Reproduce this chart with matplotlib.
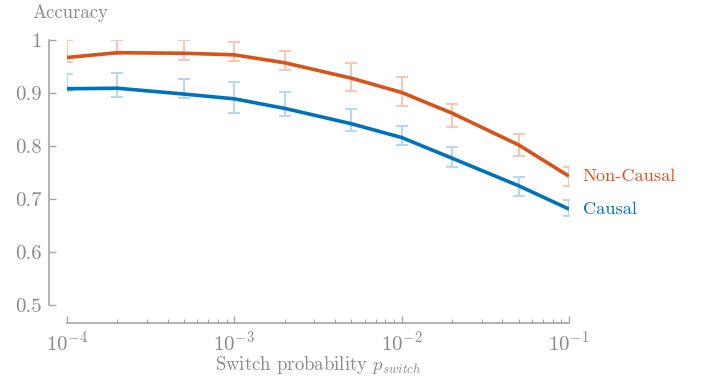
import matplotlib
matplotlib.use("Agg")
import matplotlib.pyplot as plt
from matplotlib.ticker import LogLocator, FixedLocator, FixedFormatter, NullFormatter

plt.rcParams['font.family'] = 'serif'
plt.rcParams['font.serif'] = ['cmr10', 'DejaVu Serif']
plt.rcParams['mathtext.fontset'] = 'cm'
plt.rcParams['axes.formatter.use_mathtext'] = True

p_switch = [1e-4, 2e-4, 5e-4, 1e-3, 2e-3, 5e-3, 1e-2, 2e-2, 5e-2, 1e-1]

noncausal_mean = [0.967, 0.976, 0.975, 0.972, 0.957, 0.928, 0.901, 0.862, 0.802, 0.743]
noncausal_low  = [0.959, 0.974, 0.962, 0.960, 0.943, 0.904, 0.875, 0.835, 0.782, 0.725]
noncausal_high = [1.000, 1.000, 1.000, 0.996, 0.980, 0.956, 0.930, 0.879, 0.823, 0.760]

causal_mean = [0.908, 0.909, 0.898, 0.889, 0.871, 0.842, 0.816, 0.777, 0.725, 0.681]
causal_low  = [0.903, 0.892, 0.890, 0.863, 0.857, 0.828, 0.802, 0.760, 0.706, 0.668]
causal_high = [0.935, 0.938, 0.926, 0.920, 0.901, 0.870, 0.838, 0.799, 0.742, 0.698]

y_ticks = [0.5, 0.6, 0.7, 0.8, 0.9, 1.0]
y_ticklabels = ['0.5', '0.6', '0.7', '0.8', '0.9', '1']

series = [
    ("Non-Causal", noncausal_mean, noncausal_low, noncausal_high, "#D95319", "#F5C9B8"),
    ("Causal", causal_mean, causal_low, causal_high, "#0072BD", "#B9D7EE"),
]

gray = "#8a8a8a"
spine_gray = "#a6a6a6"

fig = plt.figure(figsize=(7.02, 3.80), dpi=100)
ax = fig.add_axes([67/702, 75/380, 502/702, 265/380])

for name, mean, lo, hi, col, ecol in series:
    yerr = [[m - l for m, l in zip(mean, lo)], [h - m for m, h in zip(mean, hi)]]
    ax.errorbar(p_switch, mean, yerr=yerr, fmt='none', ecolor=ecol,
                elinewidth=1.5, capsize=4, capthick=1.5, zorder=2)
    ax.plot(p_switch, mean, color=col, lw=2.6, zorder=3, solid_capstyle='butt')
    ax.annotate(name, xy=(p_switch[-1], mean[-1]), xytext=(10, 0),
                textcoords='offset points', color=col, fontsize=13.2,
                va='center', ha='left', annotation_clip=False)

ax.set_xscale('log')
ax.set_xlim(1e-4, 1e-1)
ax.set_ylim(0.5, 1.0)

ax.yaxis.set_major_locator(FixedLocator(y_ticks))
ax.yaxis.set_major_formatter(FixedFormatter(y_ticklabels))
ax.xaxis.set_major_locator(LogLocator(base=10, numticks=10))
ax.xaxis.set_minor_locator(LogLocator(base=10, subs=range(2, 10), numticks=20))
ax.xaxis.set_minor_formatter(NullFormatter())

for s in ['top', 'right']:
    ax.spines[s].set_visible(False)
for s in ['left', 'bottom']:
    ax.spines[s].set_position(('outward', 13))
    ax.spines[s].set_color(spine_gray)
    ax.spines[s].set_linewidth(1.2)

ax.tick_params(axis='both', which='major', direction='in', length=5, width=1.0,
               color=spine_gray, labelcolor=gray, labelsize=15, pad=5)
ax.tick_params(axis='x', which='minor', direction='in', length=3, width=0.9,
               color=spine_gray)

ax.set_xlabel(r'Switch probability $p_{switch}$', color=gray, fontsize=13.5, labelpad=0)
fig.text(32/702, 1 - 13/380, 'Accuracy', color=gray, fontsize=13.5, ha='left', va='center')

fig.savefig('out.png', dpi=100)
